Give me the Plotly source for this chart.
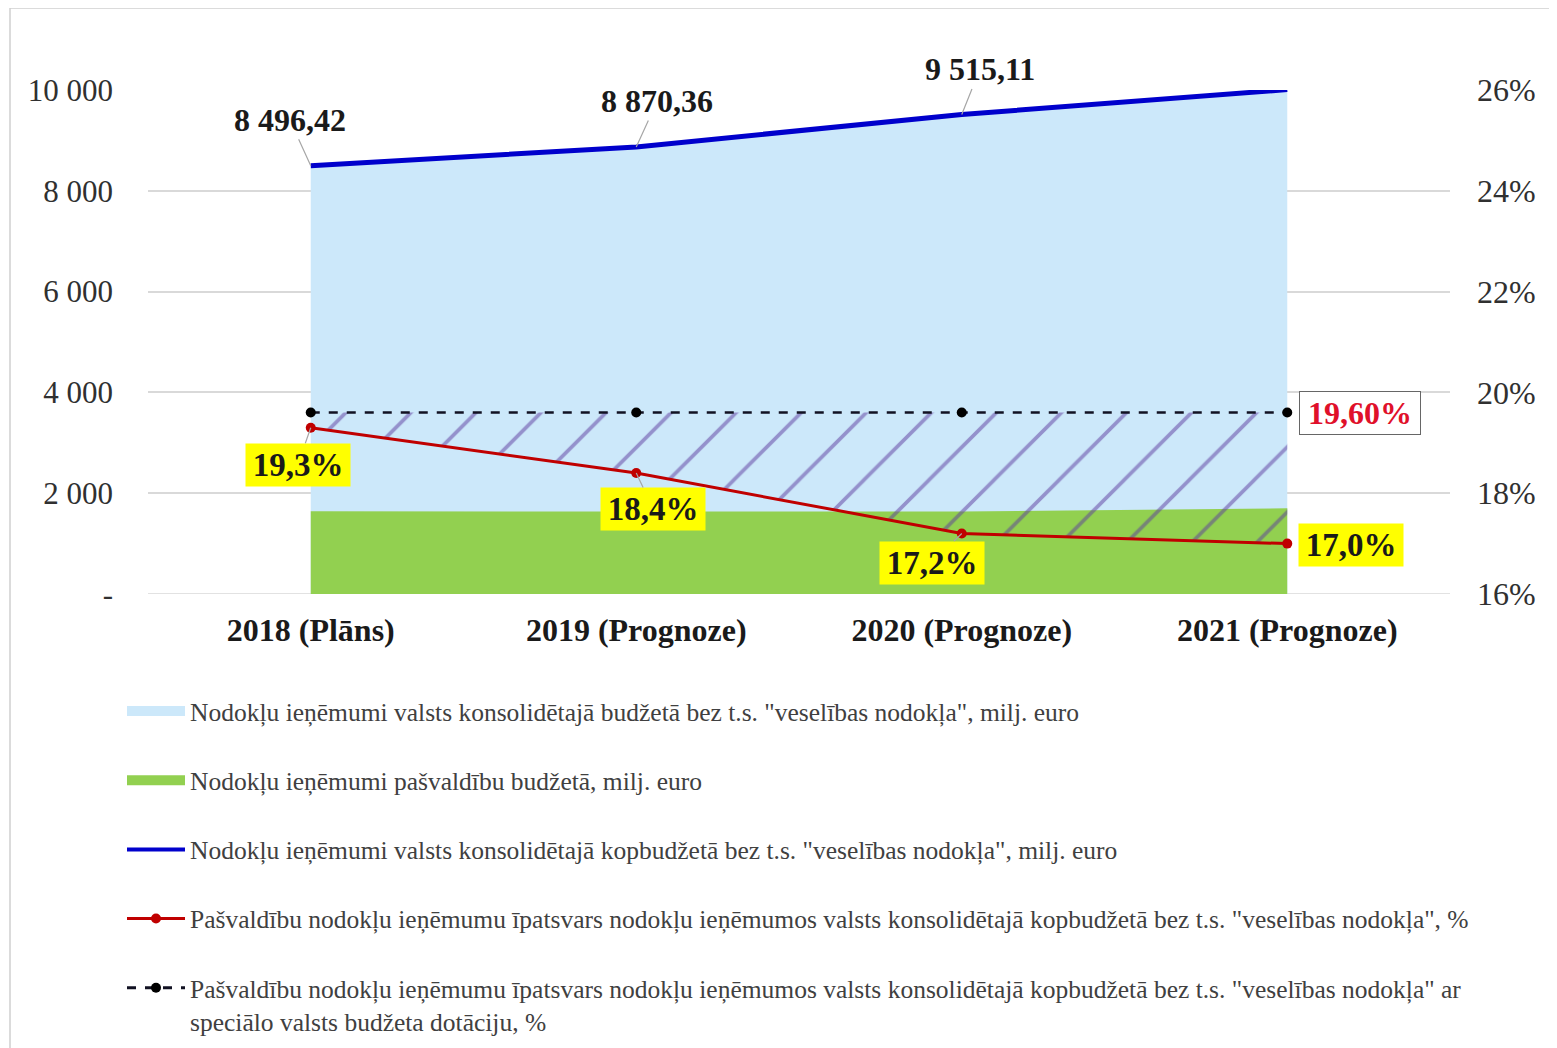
import plotly.graph_objects as go

# ---------------- data ----------------
categories = ["2018 (Plāns)", "2019 (Prognoze)", "2020 (Prognoze)", "2021 (Prognoze)"]
total_revenue = [8496.42, 8870.36, 9515.11, 10007.74]          # milj. euro (blue line / light blue area)
municipal_revenue = [1640, 1632, 1637, 1701]                   # milj. euro (green area)
municipal_share = [19.3, 18.4, 17.2, 17.0]                     # % (red line)
share_with_grant = [19.6, 19.6, 19.6, 19.6]                    # % (black dashed line)
total_labels = ["8 496,42", "8 870,36", "9 515,11", "10 007,74"]
share_labels = ["19,3%", "18,4%", "17,2%", "17,0%"]
grant_label = "19,60%"
left_tickvals = [0, 2000, 4000, 6000, 8000, 10000]
left_ticktext = ["-", "2 000", "4 000", "6 000", "8 000", "10 000"]
right_tickvals = [16, 18, 20, 22, 24, 26]
right_ticktext = ["16%", "18%", "20%", "22%", "24%", "26%"]
series_names = [
    'Nodokļu ieņēmumi valsts konsolidētajā budžetā bez t.s. "veselības nodokļa", milj. euro',
    'Nodokļu ieņēmumi pašvaldību budžetā, milj. euro',
    'Nodokļu ieņēmumi valsts konsolidētajā kopbudžetā bez t.s. "veselības nodokļa", milj. euro',
    'Pašvaldību nodokļu ieņēmumu īpatsvars nodokļu ieņēmumos valsts konsolidētajā kopbudžetā bez t.s. "veselības nodokļa", %',
    'Pašvaldību nodokļu ieņēmumu īpatsvars nodokļu ieņēmumos valsts konsolidētajā kopbudžetā bez t.s. "veselības nodokļa" ar<br>speciālo valsts budžeta dotāciju, %',
]

# ---------------- style ----------------
FONT = "Liberation Serif"
LIGHT_BLUE = "#cce8fa"
GREEN = "#92d050"
BLUE = "#0000cc"
RED = "#c00000"
DARK = "#111122"
GRID = "#d9d9d9"
LEADER = "#a6a6a6"
total_offsets = [(-21, -46), (21, -46), (18, -45), (24, -32)]
share_offsets = [(-13, 37), (17, 36), (-30, 29), (64, 1)]
grant_offset = (73, 0)

fig = go.Figure()

# data areas (legend shown through thick-line legend entries below)
fig.add_trace(go.Scatter(
    x=categories, y=total_revenue, name=series_names[0], mode="lines",
    line=dict(width=0, color=LIGHT_BLUE), fill="tozeroy", fillcolor=LIGHT_BLUE,
    legendgroup="g1", showlegend=False, hoverinfo="skip"))
fig.add_trace(go.Scatter(
    x=categories, y=municipal_revenue, name=series_names[1], mode="lines",
    line=dict(width=0, color=GREEN), fill="tozeroy", fillcolor=GREEN,
    legendgroup="g2", showlegend=False, hoverinfo="skip"))
fig.add_trace(go.Scatter(
    x=categories, y=total_revenue, name=series_names[2], mode="lines",
    line=dict(width=5, color=BLUE), legendgroup="g3", showlegend=False))

# hatch between red line and dashed line (secondary axis)
fig.add_trace(go.Scatter(
    x=categories, y=municipal_share, yaxis="y2", mode="lines",
    line=dict(width=0), showlegend=False, hoverinfo="skip"))
fig.add_trace(go.Scatter(
    x=categories, y=share_with_grant, yaxis="y2", mode="lines",
    line=dict(width=0), fill="tonexty", fillcolor="rgba(0,0,0,0)",
    fillpattern=dict(shape="/", fgcolor="#5b3a9e", size=46, solidity=0.08),
    showlegend=False, hoverinfo="skip"))

fig.add_trace(go.Scatter(
    x=categories, y=municipal_share, yaxis="y2", name=series_names[3],
    mode="lines+markers", line=dict(width=3, color=RED),
    marker=dict(size=10, color=RED), legendgroup="g4", showlegend=False))
fig.add_trace(go.Scatter(
    x=categories, y=share_with_grant, yaxis="y2", name=series_names[4],
    mode="lines+markers", line=dict(width=2.5, color=DARK, dash="dash"),
    marker=dict(size=10, color="#000000"), legendgroup="g5", showlegend=False))

# legend entries (same names / colours as the traces above)
legend_specs = [
    (series_names[0], "g1", dict(width=10, color=LIGHT_BLUE), "lines", None),
    (series_names[1], "g2", dict(width=10, color=GREEN), "lines", None),
    (series_names[2], "g3", dict(width=4, color=BLUE), "lines", None),
    (series_names[3], "g4", dict(width=3, color=RED), "lines+markers", dict(size=10, color=RED)),
    (series_names[4], "g5", dict(width=3, color=DARK, dash="dash"), "lines+markers", dict(size=10, color="#000000")),
]
for nm, grp, ln, md, mk in legend_specs:
    kw = dict(x=[None], y=[None], name=nm, legendgroup=grp, mode=md, line=ln, showlegend=True)
    if mk:
        kw["marker"] = mk
    fig.add_trace(go.Scatter(**kw))

annotations = []
for c, v, t, (ax, ay) in zip(categories, total_revenue, total_labels, total_offsets):
    annotations.append(dict(
        x=c, y=v, xref="x", yref="y", text=f"<b>{t}</b>", showarrow=True,
        ax=ax, ay=ay, arrowhead=0, arrowwidth=1.2, arrowcolor=LEADER,
        font=dict(family=FONT, size=32, color="#1a1a1a")))
for i, (c, v, t, (ax, ay)) in enumerate(zip(categories, municipal_share, share_labels, share_offsets)):
    annotations.append(dict(
        x=c, y=v, xref="x", yref="y2", text=f"<b>{t}</b>", showarrow=True,
        ax=ax, ay=ay, arrowhead=0, arrowwidth=1.2,
        arrowcolor=LEADER if i < 3 else "rgba(0,0,0,0)",
        bgcolor="#ffff00", borderpad=3, width=98,
        font=dict(family=FONT, size=33, color="#1a1a1a")))
annotations.append(dict(
    x=categories[-1], y=share_with_grant[-1], xref="x", yref="y2",
    text=f"<b>{grant_label}</b>", showarrow=True, ax=grant_offset[0], ay=grant_offset[1],
    arrowhead=0, arrowcolor="rgba(0,0,0,0)", bgcolor="#ffffff",
    bordercolor="#666666", borderwidth=1, borderpad=3, width=114,
    font=dict(family=FONT, size=32, color="#e0102a")))

OFF = 8  # page body margin
W, H = 1557 - OFF, 1048 - OFF
L, R, T = 148 - OFF, 107, 90 - OFF
B = H - T - 504
pw, ph = W - L - R, H - T - B

def px_x(p):
    return (p - OFF - L) / pw

def px_y(p):
    return (H - B - (p - OFF)) / ph

fig.update_layout(
    width=W, height=H,
    margin=dict(l=L, r=R, t=T, b=B, autoexpand=False),
    paper_bgcolor="white", plot_bgcolor="white",
    font=dict(family=FONT, color="#262626"),
    showlegend=True,
    legend=dict(
        x=px_x(122), y=px_y(688), xanchor="left", yanchor="top",
        orientation="v", traceorder="grouped", tracegroupgap=33,
        valign="top", itemwidth=58,
        font=dict(family=FONT, size=25.5, color="#404040"),
        bgcolor="rgba(0,0,0,0)"),
    xaxis=dict(
        type="category", range=[-0.5, 3.5], showgrid=False, zeroline=False,
        showline=False, ticks="", ticklabelstandoff=14,
        tickfont=dict(family=FONT, size=32, color="#1a1a1a"),
        tickprefix="<b>", ticksuffix="</b>"),
    yaxis=dict(
        range=[0, 10000], tickvals=left_tickvals, ticktext=left_ticktext,
        showgrid=True, gridcolor=GRID, gridwidth=1.5, zeroline=False,
        showline=False, ticks="", ticklabelstandoff=34,
        tickfont=dict(family=FONT, size=31, color="#303030")),
    yaxis2=dict(
        range=[16, 26], tickvals=right_tickvals, ticktext=right_ticktext,
        overlaying="y", side="right", showgrid=False, zeroline=False,
        showline=False, ticks="", ticklabelstandoff=26,
        tickfont=dict(family=FONT, size=32, color="#303030")),
    annotations=annotations,
    shapes=[
        dict(type="line", xref="paper", yref="y", x0=0, x1=1, y0=0, y1=0,
             line=dict(color=GRID, width=1.5), layer="below"),
        dict(type="rect", xref="paper", yref="paper",
             x0=px_x(10), x1=px_x(1562), y0=px_y(8), y1=px_y(1055),
             line=dict(color="#d0d0d0", width=1.5), layer="below"),
    ],
)

fig.write_html("out.html")
